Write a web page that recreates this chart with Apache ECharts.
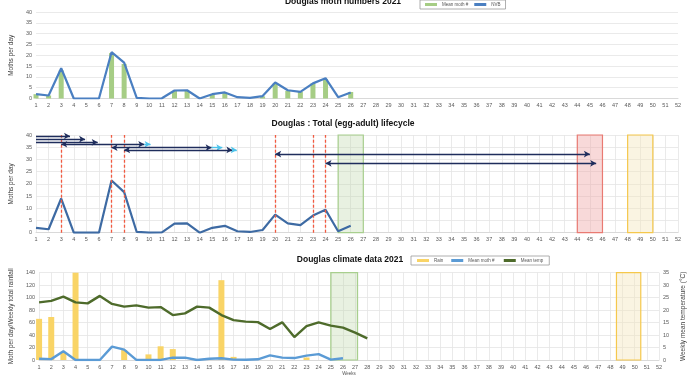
<!DOCTYPE html>
<html><head><meta charset="utf-8">
<script src="https://cdn.jsdelivr.net/npm/echarts@6/dist/echarts.min.js"></script>
<style>html,body{margin:0;padding:0;background:#fff}#c{width:700px;height:381px}</style>
</head><body><div id="c"></div>
<script>
// ---- data ----
const mothWeeks = [1,2,3,4,5,6,7,8,9,10,11,12,13,14,15,16,17,18,19,20,21,22,23,24,25,26];
const nvb = [2.0,1.4,14.0,0,0,0,21.4,16.6,0.3,0,0.1,3.7,3.8,0,2.0,2.8,0.6,0.3,1.1,7.4,3.8,3.1,7.0,9.4,0.6,2.8];
const meanMoth = [2.0,1.4,13.0,0,0,0,21.0,16.0,0,0,0,3.5,3.5,0,2.0,2.5,0,0,1.0,7.0,3.5,3.0,7.0,9.0,0,3.0];
const rainWeeks = [1,2,3,4,8,10,11,12,16,17,23];
const rain = [66,69,12,142,16,9,22,17.5,128,5,4];
const tempWeeks = [1,2,3,4,5,6,7,8,9,10,11,12,13,14,15,16,17,18,19,20,21,22,23,24,25,26,27,28];
const temp = [23.1,23.7,25.4,23.1,22.7,25.7,22.5,21.4,21.9,21.0,21.2,18.0,18.7,21.4,21.0,18.0,16.0,15.4,15.2,12.4,15.1,9.2,13.6,15.1,13.8,13.0,11.0,8.7];
const emergenceWeeks = [3,7,8,20,23,24];
// lifecycle arrows: level (moths/day axis), start week, end week, light-blue extension end, head at start
const arrowY     = [39.6, 38.3, 37.0, 36.2, 34.8, 33.9, 32.2, 28.4];
const arrowFrom  = [1, 1, 1, 3, 7, 8, 20, 24];
const arrowTo    = [3.7, 4.9, 5.9, 9.6, 14.95, 16.6, 45.0, 45.5];
const arrowExt   = [null, null, null, 10.1, 15.8, 16.95, null, null];
const arrowStart = [false, false, false, true, true, true, true, true];
// shaded week windows
const lifeBoxes = [[25,27,'green'],[44,46,'red'],[48,50,'yellow']];
const climBoxes = [[25,27.2,'green'],[48.5,50.5,'yellow']];

const pair = (xs, ys) => xs.map((x,i)=>[x, ys[i]]);
const boxStyle = {
  green: {color:'rgba(190,215,170,0.35)', borderColor:'#a8cf8e', borderWidth:1.2},
  red: {color:'rgba(240,170,170,0.45)', borderColor:'#e97a72', borderWidth:1.2},
  yellow: {color:'rgba(245,230,190,0.45)', borderColor:'#f5c84c', borderWidth:1.2}
};
const navy = '#1f2d5c', light = '#4cc3ea';

const arrowLines = [];
arrowY.forEach((y,i)=>{
  arrowLines.push([
    {coord:[arrowFrom[i], y], symbol: arrowStart[i] ? 'arrow' : 'none', lineStyle:{color:navy, width:1.4, type:'solid'}},
    {coord:[arrowTo[i], y], symbol:'arrow'}
  ]);
  if (arrowExt[i] !== null) {
    arrowLines.push([
      {coord:[arrowTo[i], y], symbol:'none', lineStyle:{color:light, width:1.4, type:'solid'}},
      {coord:[arrowExt[i], y], symbol:'arrow'}
    ]);
  }
});

const labelStyle = {fontSize:5.5, color:'#595959', fontFamily:'Liberation Sans'};
function xAx(grid){
  return {type:'value', gridIndex:grid, min:1, max:52, interval:1,
    axisLabel:Object.assign({margin:4}, labelStyle),
    axisTick:{show:false}, axisLine:{show:true, lineStyle:{color:'#d9d9d9'}},
    splitLine:{show: grid!==0, lineStyle:{color:'#e4e4e4', width:0.8}}};
}
function yAx(grid, max, interval, name, gap, pos){
  return {type:'value', gridIndex:grid, min:0, max:max, interval:interval, position:pos||'left',
    name:name, nameLocation:'middle', nameGap:gap, nameRotate:90,
    nameTextStyle:{fontSize:6.5, color:'#404040', fontFamily:'Liberation Sans'},
    axisLabel:Object.assign({margin:4}, labelStyle),
    axisTick:{show:false}, axisLine:{show:false},
    splitLine:{show:true, lineStyle:{color:'#e4e4e4', width:0.8}}};
}
const titleStyle = {fontSize:8.5, fontWeight:'bold', color:'#111', fontFamily:'Liberation Sans'};
const legendText = {fontSize:4.5, color:'#555', fontFamily:'Liberation Sans'};

const option = {
  animation:false,
  backgroundColor:'#fff',
  title:[
    {text:'Douglas moth numbers 2021', left:343, top:-3, textAlign:'center', textStyle:titleStyle, padding:0},
    {text:'Douglas : Total (egg-adult) lifecycle', left:343, top:119, textAlign:'center', textStyle:titleStyle, padding:0},
    {text:'Douglas climate data 2021', left:350, top:255, textAlign:'center', textStyle:titleStyle, padding:0}
  ],
  legend:[
    {left:420, top:0, data:['Mean moth #','NVB'], itemWidth:12, itemHeight:3, itemGap:6, icon:'rect',
      textStyle:legendText, borderColor:'#999', borderWidth:0.8, padding:[2,5]},
    {left:411, top:256, data:['Rain','Mean moth # ','Mean temp'], itemWidth:12, itemHeight:3, itemGap:8, icon:'rect',
      textStyle:legendText, borderColor:'#999', borderWidth:0.8, padding:[2,6]}
  ],
  grid:[
    {left:32, top:12, width:646, height:86.5},
    {left:27, top:135, width:651, height:97.7},
    {left:31, top:272.7, width:628, height:87.3}
  ],
  xAxis:[xAx(0), xAx(1), Object.assign(xAx(2), {name:'Weeks', nameLocation:'middle', nameGap:11,
    nameTextStyle:{fontSize:4.5, color:'#555', fontFamily:'Liberation Sans'}})],
  yAxis:[
    yAx(0, 40, 5, 'Moths per day', 12),
    yAx(1, 40, 5, 'Moths per day', 10),
    yAx(2, 140, 20, 'Moth per day/Weekly total rainfall', 15),
    Object.assign(yAx(2, 35, 5, 'Weekly mean temperature (°C)', 14, 'right'), {splitLine:{show:false}})
  ],
  series:[
    {name:'Mean moth #', type:'bar', xAxisIndex:0, yAxisIndex:0, barWidth:5,
      itemStyle:{color:'#a6cd85'}, data:pair(mothWeeks, meanMoth)},
    {name:'NVB', type:'line', xAxisIndex:0, yAxisIndex:0, symbol:'none',
      lineStyle:{color:'#4a7fc1', width:2.2}, itemStyle:{color:'#4a7fc1'}, data:pair(mothWeeks, nvb)},
    {name:'lifecycle', type:'line', xAxisIndex:1, yAxisIndex:1, symbol:'none',
      lineStyle:{color:'#3d6aa3', width:2.2}, itemStyle:{color:'#3d6aa3'}, data:pair(mothWeeks, nvb),
      markArea:{silent:true, data: lifeBoxes.map(b=>[{xAxis:b[0], itemStyle:boxStyle[b[2]]},{xAxis:b[1]}])},
      markLine:{silent:true, symbol:'none', label:{show:false},
        data: emergenceWeeks.map(w=>({xAxis:w, lineStyle:{color:'#f25a40', type:[3,2], width:1.3, opacity:1}}))}
    },
    {name:'arrows', type:'line', xAxisIndex:1, yAxisIndex:1, symbol:'none', data:[],
      markLine:{silent:true, symbolSize:[5,6], label:{show:false}, animation:false, data:arrowLines}},
    {name:'Rain', type:'bar', xAxisIndex:2, yAxisIndex:2, barWidth:6,
      itemStyle:{color:'#f9d466'}, data:pair(rainWeeks, rain),
      markArea:{silent:true, data: climBoxes.map(b=>[{xAxis:b[0], itemStyle:boxStyle[b[2]]},{xAxis:b[1]}])}},
    {name:'Mean moth # ', type:'line', xAxisIndex:2, yAxisIndex:2, symbol:'none',
      lineStyle:{color:'#5b9bd5', width:2.4}, itemStyle:{color:'#5b9bd5'}, data:pair(mothWeeks, nvb)},
    {name:'Mean temp', type:'line', xAxisIndex:2, yAxisIndex:3, symbol:'none',
      lineStyle:{color:'#4e6b2b', width:2.4}, itemStyle:{color:'#4e6b2b'}, data:pair(tempWeeks, temp)}
  ]
};
const chart = echarts.init(document.getElementById('c'), null, {renderer:'canvas'});
chart.setOption(option);
</script>
</body></html>
